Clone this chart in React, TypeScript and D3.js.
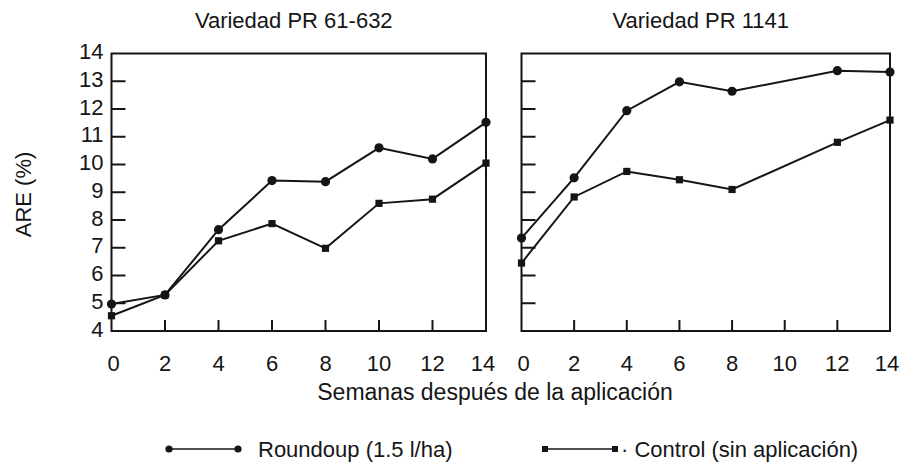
import React from 'react';
import * as d3 from 'd3';

const weeksA = [0, 2, 4, 6, 8, 10, 12, 14];
const roundupA = [4.97, 5.3, 7.65, 9.42, 9.38, 10.6, 10.2, 11.52];
const controlA = [4.55, 5.3, 7.25, 7.87, 6.98, 8.6, 8.75, 10.05];

const weeksB = [0, 2, 4, 6, 8, 12, 14];
const roundupB = [7.35, 9.52, 11.94, 12.98, 12.64, 13.38, 13.33];
const controlB = [6.45, 8.83, 9.75, 9.45, 9.1, 10.8, 11.6];

const xTicks = [0, 2, 4, 6, 8, 10, 12, 14];
const yTicks = [4, 5, 6, 7, 8, 9, 10, 11, 12, 13, 14];

const INK = '#151515';
const FONT = "'Liberation Sans', Arial, Helvetica, sans-serif";
const FS = 22;

type PanelProps = {
  title: string;
  left: number;
  right: number;
  weeks: number[];
  roundup: number[];
  control: number[];
  yLabels: boolean;
};

const top = 53.5;
const bottom = 331;

function Panel({ title, left, right, weeks, roundup, control, yLabels }: PanelProps) {
  const x = d3.scaleLinear().domain([0, 14]).range([left, right]);
  const y = d3.scaleLinear().domain([4, 14]).range([bottom, top]);
  const line = d3.line<[number, number]>().x(d => x(d[0])).y(d => y(d[1]));
  const ptsR = weeks.map((w, i) => [w, roundup[i]] as [number, number]);
  const ptsC = weeks.map((w, i) => [w, control[i]] as [number, number]);

  return (
    <g>
      <text x={(left + right) / 2 - 5} y={28} textAnchor="middle" fontSize={FS} fill={INK}>{title}</text>
      <rect x={left} y={top} width={right - left} height={bottom - top} fill="none" stroke={INK} strokeWidth={2} />
      {yTicks.slice(1, -1).map(t => (
        <line key={'yt' + t} x1={left} x2={left + 14} y1={y(t)} y2={y(t)} stroke={INK} strokeWidth={2} />
      ))}
      {xTicks.slice(1, -1).map(t => (
        <line key={'xt' + t} x1={x(t)} x2={x(t)} y1={bottom} y2={bottom - 11} stroke={INK} strokeWidth={2} />
      ))}
      {yLabels && yTicks.map(t => (
        <text key={'yl' + t} x={left - 8} y={y(t) - 2} dy="0.35em" textAnchor="end" fontSize={FS} fill={INK}>{t}</text>
      ))}
      {xTicks.map(t => (
        <text key={'xl' + t} x={x(t) + (t === 14 ? -3 : t === 0 ? 2 : 0)} y={363} dy="0.35em" textAnchor="middle" fontSize={FS} fill={INK}>{t}</text>
      ))}
      <path d={line(ptsR) || ''} fill="none" stroke={INK} strokeWidth={2} />
      <path d={line(ptsC) || ''} fill="none" stroke={INK} strokeWidth={2} />
      {ptsR.map((p, i) => (
        <circle key={'r' + i} cx={x(p[0])} cy={y(p[1])} r={4.6} fill={INK} />
      ))}
      {ptsC.map((p, i) => (
        <rect key={'c' + i} x={x(p[0]) - 3.6} y={y(p[1]) - 3.6} width={7.2} height={7.2} fill={INK} />
      ))}
    </g>
  );
}

export default function App() {
  return (
    <svg width={901} height={464} style={{ position: 'absolute', left: 0, top: 0, display: 'block', background: '#fff' }} fontFamily={FONT}>
      <rect width={901} height={464} fill="#fff" />
      <Panel title="Variedad PR 61-632" left={111.5} right={486} weeks={weeksA} roundup={roundupA} control={controlA} yLabels />
      <Panel title="Variedad PR 1141" left={521.5} right={890} weeks={weeksB} roundup={roundupB} control={controlB} yLabels={false} />
      <text transform="translate(31,194.5) rotate(-90)" textAnchor="middle" fontSize={FS} fill={INK}>ARE (%)</text>
      <text x={495} y={400} textAnchor="middle" fontSize={23} fill={INK}>Semanas después de la aplicación</text>
      <g>
        <line x1={169} x2={238} y1={449} y2={449} stroke={INK} strokeWidth={1.6} />
        <circle cx={169} cy={449} r={3.6} fill={INK} />
        <circle cx={238} cy={449} r={3.6} fill={INK} />
        <text x={258} y={449} dy="0.35em" fontSize={FS} fill={INK}>Roundoup (1.5 l/ha)</text>
        <line x1={545} x2={615} y1={449} y2={449} stroke={INK} strokeWidth={1.6} />
        <rect x={542} y={446} width={6} height={6} fill={INK} />
        <rect x={612} y={446} width={6} height={6} fill={INK} />
        <text x={621} y={449} dy="0.35em" fontSize={FS} fill={INK}>· Control (sin aplicación)</text>
      </g>
    </svg>
  );
}
